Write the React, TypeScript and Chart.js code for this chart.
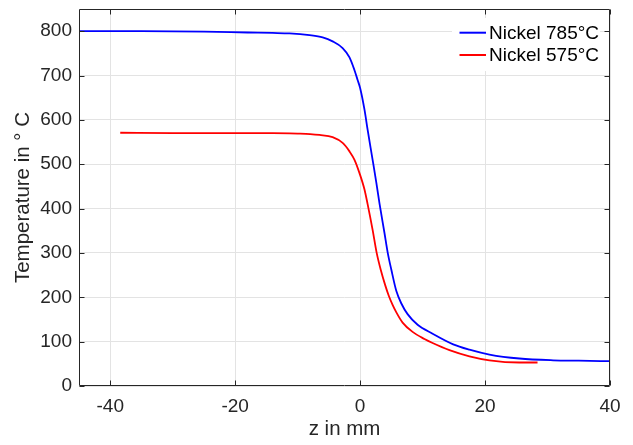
import React, { useEffect, useRef } from "react";
import { Chart, registerables } from "chart.js";

Chart.register(...registerables);

// Nickel 785°C
const zHot = [-45, -35, -25, -18, -14, -11.3, -8.1, -6.0, -4.4, -2.8, -1.7, -0.9, -0.4, 0, 0.7, 1.2, 2.0, 2.6, 3.1, 3.9, 4.4, 5.0, 5.8, 6.6, 7.6, 9.2, 11.6, 14.9, 17.5, 20.7, 25.5, 30.9, 35, 40];
const tHot = [800, 800, 799, 797, 796, 795, 791, 786, 777, 762, 741, 712, 690, 672, 623, 578, 510, 458, 412, 345, 302, 262, 214, 186, 162, 138, 118, 94, 82, 71, 62, 58, 57, 56];

// Nickel 575°C
const zCold = [-38.4, -30, -20, -14, -10, -8, -6.5, -4.4, -2.8, -1.7, -0.9, -0.1, 0.7, 1.2, 2.0, 2.65, 3.3, 4.0, 4.6, 5.2, 5.8, 6.8, 8.4, 10.3, 11.6, 14.3, 17.5, 20.7, 25.5, 28.4];
const tCold = [571, 570, 570, 570, 569, 568, 566, 561, 548, 529, 510, 480, 443, 410, 352, 300, 262, 228, 203, 183, 166, 143, 122, 106, 97, 81, 67, 58, 53, 53];

const seriesLabels = ["Nickel 785°C", "Nickel 575°C"];
const seriesColors = ["#0000ff", "#ff0000"];

const xTicks = [-40, -20, 0, 20, 40];
const yTicks = [0, 100, 200, 300, 400, 500, 600, 700, 800];
const xRange = [-45, 40];
const yRange = [0, 850];
const xTitle = "z in mm";
const yTitle = "Temperature in ° C";

const FONT = "'Liberation Sans', Arial, Helvetica, sans-serif";
const AXIS = "#262626";

const boxPlugin = {
  id: "matlabBox",
  afterDatasetsDraw(chart: any) {
    const { ctx, chartArea: a, scales } = chart;
    ctx.save();

    // legend (white background, no frame)
    ctx.fillStyle = "#ffffff";
    ctx.fillRect(452, 18, 148, 53);
    const rows = [32.7, 55];
    ctx.font = `19px ${FONT}`;
    ctx.textBaseline = "middle";
    ctx.textAlign = "left";
    chart.data.datasets.forEach((ds: any, i: number) => {
      const y = rows[i];
      ctx.strokeStyle = ds.borderColor;
      ctx.lineWidth = 2;
      ctx.beginPath();
      ctx.moveTo(459.5, y);
      ctx.lineTo(486, y);
      ctx.stroke();
      ctx.fillStyle = "#000000";
      ctx.fillText(ds.label, 489, y + 1);
    });

    // axes box with inward ticks
    const L = Math.round(a.left) + 0.5;
    const R = Math.round(a.right) - 0.5;
    const T = Math.round(a.top) + 0.5;
    const B = Math.round(a.bottom) - 0.5;
    ctx.strokeStyle = AXIS;
    ctx.lineWidth = 1;
    ctx.beginPath();
    ctx.rect(L, T, R - L, B - T);
    const len = 5;
    for (const v of xTicks) {
      const x = Math.round(scales.x.getPixelForValue(v)) + 0.5;
      ctx.moveTo(x, B);
      ctx.lineTo(x, B - len);
      ctx.moveTo(x, T);
      ctx.lineTo(x, T + len);
    }
    for (const v of yTicks) {
      const y = Math.round(scales.y.getPixelForValue(v)) + 0.5;
      ctx.moveTo(L, y);
      ctx.lineTo(L + len, y);
      ctx.moveTo(R, y);
      ctx.lineTo(R - len, y);
    }
    ctx.stroke();
    ctx.restore();
  },
};

export default function App() {
  const ref = useRef<HTMLCanvasElement>(null);

  useEffect(() => {
    document.body.style.margin = "0";
    const canvas = ref.current;
    if (!canvas) return;
    const chart = new Chart(canvas, {
      type: "line",
      data: {
        datasets: [
          {
            label: seriesLabels[0],
            data: zHot.map((z, i) => ({ x: z, y: tHot[i] })),
            borderColor: seriesColors[0],
            backgroundColor: seriesColors[0],
            borderWidth: 1.8,
            pointRadius: 0,
            cubicInterpolationMode: "monotone",
            fill: false,
          },
          {
            label: seriesLabels[1],
            data: zCold.map((z, i) => ({ x: z, y: tCold[i] })),
            borderColor: seriesColors[1],
            backgroundColor: seriesColors[1],
            borderWidth: 1.8,
            pointRadius: 0,
            cubicInterpolationMode: "monotone",
            fill: false,
          },
        ],
      },
      options: {
        animation: false,
        responsive: false,
        devicePixelRatio: 1,
        layout: { padding: { top: 9, right: 23, left: 0, bottom: 0 } },
        plugins: { legend: { display: false }, tooltip: { enabled: false } },
        scales: {
          x: {
            type: "linear",
            min: xRange[0],
            max: xRange[1],
            afterBuildTicks: (s: any) => {
              s.ticks = xTicks.map((v) => ({ value: v }));
            },
            afterFit: (s: any) => {
              s.height = 59;
              s.paddingLeft = 0;
              s.paddingRight = 0;
            },
            grid: { color: "#e3e3e3", lineWidth: 1, drawTicks: false },
            border: { display: false },
            ticks: {
              padding: 9,
              color: AXIS,
              font: { family: FONT, size: 19 },
              maxRotation: 0,
            },
            title: {
              display: true,
              text: xTitle,
              color: AXIS,
              font: { family: FONT, size: 20.5 },
              padding: { top: 0, bottom: 3 },
            },
          },
          y: {
            type: "linear",
            min: yRange[0],
            max: yRange[1],
            afterBuildTicks: (s: any) => {
              s.ticks = yTicks.map((v) => ({ value: v }));
            },
            afterFit: (s: any) => {
              s.width = 79;
              s.paddingTop = 0;
              s.paddingBottom = 0;
            },
            grid: { color: "#e3e3e3", lineWidth: 1, drawTicks: false },
            border: { display: false },
            ticks: {
              padding: 7,
              color: AXIS,
              font: { family: FONT, size: 19 },
            },
            title: {
              display: true,
              text: yTitle,
              color: AXIS,
              font: { family: FONT, size: 20.5 },
              padding: { top: 11, bottom: 0 },
            },
          },
        },
      },
      plugins: [boxPlugin],
    } as any);
    return () => chart.destroy();
  }, []);

  return (
    <div style={{ position: "absolute", left: 0, top: 0, width: 633, height: 445, background: "#fff" }}>
      <canvas ref={ref} width={633} height={445} style={{ display: "block" }} />
    </div>
  );
}
